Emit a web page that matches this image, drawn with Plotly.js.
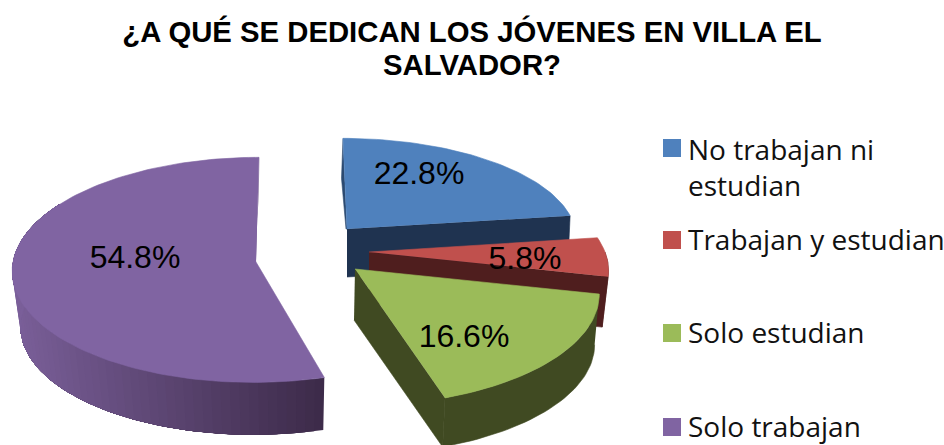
<!DOCTYPE html>
<html><head><meta charset="utf-8">
<script src="https://cdn.plot.ly/plotly-3.0.1.min.js"></script>
<style>html,body{margin:0;padding:0;background:#fff}#c{width:944px;height:445px}</style>
</head><body><div id="c"></div>
<script>
const categories = ["No trabajan ni<br>estudian", "Trabajan y estudian", "Solo estudian", "Solo trabajan"];
const shares = [22.8, 5.8, 16.6, 54.8];
const topColors = ["#4f81bd", "#c0504d", "#9bbb59", "#8064a2"];
const sideColors = ["#1f3350", "#4f1e1e", "#404a22", "#3d2b4a"];

// projection of every exploded slice: apex of the top face, apex of the bottom face,
// radii, perspective strength, shear, bottom-face scale, angular warp
const proj = [
  {ax:347, ay:229, bx:347, by:277, R:228, Ry:97,  k:.07, s:4,  q:.99,  d:0},
  {ax:369, ay:252, bx:369, by:303, R:236, Ry:106, k:.17, s:0,  q:.975, d:0},
  {ax:355, ay:269, bx:354, by:320, R:238, Ry:106, k:.225,s:0,  q:.985, d:0},
  {ax:256, ay:262, bx:257, by:318, R:243, Ry:112, k:.07, s:-3, q:.97,  d:-2.5}
];
const labelPos = [[419,175.5],[525,260.5],[464,338.5],[135,260]];
const legendY = [148,240,333,427];
const legendTextY = [166.5,239,332,426];
const titleBaselines = [42, 75];
const legendLeadLine = 39;

function pt(p, deg, bottom){
  const tt = deg + p.d*Math.sin(2*deg*Math.PI/180);
  const t = tt*Math.PI/180, u = Math.sin(t), v = -Math.cos(t), w = 1 - p.k*v;
  const f = bottom ? p.q : 1;
  return [(bottom?p.bx:p.ax) + f*(p.R*u/w + p.s*v), (bottom?p.by:p.ay) + f*p.Ry*v/w];
}
function poly(points, color, lw){
  return {type:'scatter', mode:'lines', x:points.map(a=>a[0]), y:points.map(a=>a[1]),
    fill:'toself', fillcolor:color, line:{color:color, width:lw===undefined?.6:lw}, hoverinfo:'skip', showlegend:false};
}
function arc(p, a, b, bottom){
  const n = Math.max(4, Math.ceil(Math.abs(b-a)/1.5)), r = [];
  for(let i=0;i<=n;i++) r.push(pt(p, a+(b-a)*i/n, bottom));
  return r;
}
function mix(c1,c2,f){
  const h=c=>[1,3,5].map(i=>parseInt(c.substr(i,2),16));
  const A=h(c1),B=h(c2);
  return 'rgb('+A.map((x,i)=>Math.round(x+(B[i]-x)*f)).join(',')+')';
}

const total = shares.reduce((a,b)=>a+b,0);
const ranges = []; let acc = 0;
shares.forEach(v=>{const a=acc/total*360; acc+=v; ranges.push([a, acc/total*360]);});

const traces = [];
[3,0,1,2].forEach(i=>{
  const p = proj[i], [a,b] = ranges[i];
  const side = sideColors[i];
  if(i===3){
    // graded outer wall: each band runs to the far end, so no seams show through
    const from=a, to=300, N=60, x0=pt(p,a,false)[0], x1=pt(p,270,false)[0];
    for(let j=0;j<N;j++){
      const s1=from+(to-from)*j/N;
      const f=Math.max(0,Math.min(1,(x0-pt(p,s1,false)[0])/(x0-x1)));
      traces.push(poly(arc(p,s1,to,false).concat(arc(p,to,s1,true)), mix(side,"#7a5f99",f), 0));
    }
    // thin inner cut
    const r0=pt(p,b,false);
    traces.push(poly([r0,[r0[0]-1,r0[1]+45],[p.ax-3,p.ay-6],[p.ax,p.ay]],"#6d5589"));
  } else {
    if(i===0){
      const r0=pt(p,a,false);
      traces.push(poly([r0,[r0[0]-1.5,r0[1]+40],[p.ax-1,p.ay],[p.ax,p.ay]],"#2c4a70"));
    }
    // outer wall where it faces the viewer, then the front radial face
    const s = i===2 ? a : 90;
    if(b>s) traces.push(poly(arc(p,s,b,false).concat(arc(p,b,s,true)), side));
    traces.push(poly([[p.ax,p.ay],pt(p,b,false),pt(p,b,true),[p.bx,p.by]], side));
  }
  const topFace = [[p.ax,p.ay]].concat(arc(p,a,b,false));
  traces.push(poly(topFace, topColors[i]));
});

traces.push({type:'scatter', mode:'text', x:labelPos.map(a=>a[0]), y:labelPos.map(a=>a[1]),
  text:shares.map(v=>v.toFixed(1)+'%'), textposition:'middle center',
  textfont:{family:'"Liberation Sans",Arial,sans-serif', size:32, color:'#000'},
  hoverinfo:'skip', showlegend:false, cliponaxis:false});
traces.push({type:'scatter', mode:'markers', x:categories.map(()=>672), y:legendY,
  marker:{symbol:'square', size:18, color:topColors, line:{width:0}},
  hoverinfo:'skip', showlegend:false});

const annotations = categories.map((c,i)=>({x:689, y:legendTextY[i], xref:'x', yref:'y', text:c,
  xanchor:'left', yanchor:'middle', align:'left', showarrow:false, xshift:-2, borderpad:0,
  font:{family:'"Open Sans",sans-serif', size:28, color:'#111'}}));

Plotly.newPlot('c', traces, {
  width:944, height:445, margin:{l:0,r:0,t:0,b:0}, autosize:false,
  paper_bgcolor:'#fff', plot_bgcolor:'#fff', showlegend:false,
  title:{text:'¿A QUÉ SE DEDICAN LOS JÓVENES EN VILLA EL<br>SALVADOR?', x:.5, xanchor:'center',
    y:.93, yanchor:'top', yref:'container',
    font:{family:'"Liberation Sans",Arial,sans-serif', size:29.3, color:'#000', weight:700}},
  xaxis:{range:[0,944], visible:false, fixedrange:true},
  yaxis:{range:[445,0], visible:false, fixedrange:true},
  annotations
}, {displayModeBar:false, staticPlot:true}).then(()=>{
  // tighten the title's line spacing to the original's
  const lines = document.querySelectorAll('.gtitle tspan.line');
  lines.forEach((l,i)=>{ l.setAttribute('dy','0'); l.setAttribute('y', titleBaselines[i]); });
});
</script></body></html>
